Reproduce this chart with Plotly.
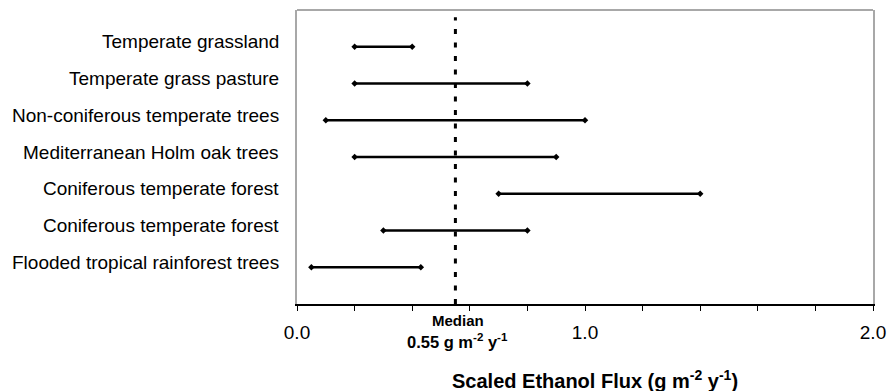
import plotly.graph_objects as go

# Data (top to bottom as shown)
categories = [
    "Temperate grassland",
    "Temperate grass pasture",
    "Non-coniferous temperate trees",
    "Mediterranean Holm oak trees",
    "Coniferous temperate forest",
    "Coniferous temperate forest",
    "Flooded tropical rainforest trees",
]
low_values = [0.20, 0.20, 0.10, 0.20, 0.70, 0.30, 0.05]
high_values = [0.40, 0.80, 1.00, 0.90, 1.40, 0.80, 0.43]
median_value = 0.55
x_tick_vals = [0.0, 1.0, 2.0]
x_tick_text = ["0.0", "1.0", "2.0"]

n = len(categories)
positions = [n - i for i in range(n)]  # top row highest

FONT = "Arial, Liberation Sans, sans-serif"

xs, ys = [], []
for lo, hi, p in zip(low_values, high_values, positions):
    xs += [lo, hi, None]
    ys += [p, p, None]

fig = go.Figure()
fig.add_trace(go.Scatter(
    x=[median_value, median_value], y=[0, n + 0.8], mode="lines",
    line=dict(color="black", width=3, dash="5px,8.5px"),
    hoverinfo="skip", showlegend=False,
))
fig.add_trace(go.Scatter(
    x=xs, y=ys, mode="lines+markers",
    line=dict(color="black", width=2.5),
    marker=dict(symbol="diamond", size=5, color="black"),
    showlegend=False,
))

annotations = []
for cat, p in zip(categories, positions):
    annotations.append(dict(
        x=0, xref="paper", y=p, yref="y", xshift=-16, yshift=5,
        text=cat, showarrow=False, font=dict(size=19),
        xanchor="right", yanchor="middle",
    ))
annotations += [
    dict(x=median_value, xref="x", y=0, yref="paper", yshift=-16, xshift=3,
         text="<b>Median</b>", showarrow=False, font=dict(size=15),
         xanchor="center", yanchor="middle"),
    dict(x=median_value, xref="x", y=0, yref="paper", yshift=-37, xshift=2,
         text="<b>0.55 g m<sup>-2</sup> y<sup>-1</sup></b>", showarrow=False,
         font=dict(size=16.5), xanchor="center", yanchor="middle"),
    dict(x=0.5, xref="paper", y=0, yref="paper", yshift=-75, xshift=10,
         text="<b>Scaled Ethanol Flux (g m<sup>-2</sup> y<sup>-1</sup>)</b>",
         showarrow=False, font=dict(size=20), xanchor="center", yanchor="middle"),
]

fig.update_layout(
    width=888, height=391,
    margin=dict(l=297, r=15, t=10, b=87, autoexpand=False),
    paper_bgcolor="white", plot_bgcolor="white",
    font=dict(family=FONT, color="black", size=18),
    xaxis=dict(
        range=[0, 2], tickvals=x_tick_vals, ticktext=x_tick_text,
        ticks="outside", ticklen=5, tickcolor="black", tickwidth=1,
        minor=dict(dtick=0.2, ticks="outside", ticklen=5, tickcolor="black", tickwidth=1),
        showline=True, linecolor="black", linewidth=1.5,
        showgrid=False, zeroline=False,
        tickfont=dict(size=19), ticklabelstandoff=5,
    ),
    yaxis=dict(
        range=[0, n + 1], showticklabels=False,
        ticks="", showgrid=False, zeroline=False,
        showline=True, mirror=True, linecolor="#a8a8a8", linewidth=2,
    ),
    shapes=[dict(type="line", xref="paper", yref="paper", x0=0, x1=1, y0=1, y1=1,
                 line=dict(color="#a8a8a8", width=2))],
    annotations=annotations,
)

# remove the default page margin so the figure fills the window exactly
fig.write_html(
    "out.html",
    config={"displayModeBar": False},
    post_script="document.body.style.margin='0px';document.body.style.overflow='hidden';",
)
